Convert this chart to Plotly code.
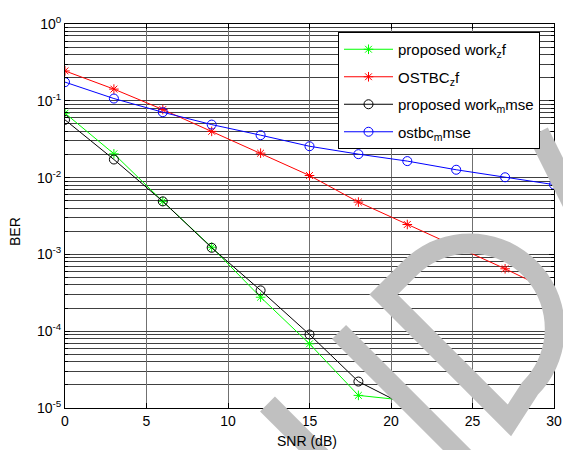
import math
import plotly.graph_objects as go

# ---------------- data ----------------
snr = [0, 3, 6, 9, 12, 15, 18, 21, 24, 27, 30]
snr_short = [0, 3, 6, 9, 12, 15, 18, 21]

proposed_zf = [0.069, 0.0204, 0.0049, 0.00124, 0.000277, 6.85e-5, 1.46e-5, 1.25e-5]
ostbc_zf = [0.245, 0.142, 0.077, 0.040, 0.0208, 0.01065, 0.0048, 0.00245, 0.00125, 0.00065, 0.00032]
proposed_mmse = [0.0565, 0.0172, 0.0049, 0.00122, 0.00034, 9.06e-5, 2.21e-5, 1.05e-5]
ostbc_mmse = [0.175, 0.107, 0.071, 0.049, 0.0357, 0.0256, 0.0202, 0.0164, 0.01265, 0.0101, 0.0081]

names = ["proposed work<sub>z</sub>f", "OSTBC<sub>z</sub>f",
         "proposed work<sub>m</sub>mse", "ostbc<sub>m</sub>mse"]

x_ticks = [0, 5, 10, 15, 20, 25, 30]
y_exps = [-5, -4, -3, -2, -1, 0]

# ---------------- layout geometry ----------------
W, H = 563, 450
ML, MR, MT, MB = 65, 9, 24, 42
PW, PH = W - ML - MR, H - MT - MB
FONT = "Liberation Sans, Arial, sans-serif"


def paper(px, py):
    return (px - ML) / PW, (H - MB - py) / PH


fig = go.Figure()

fig.add_trace(go.Scatter(x=snr_short, y=proposed_zf, name=names[0], mode="lines+markers",
                         line=dict(color="#00ff00", width=1),
                         marker=dict(symbol="asterisk-open", size=8, line=dict(color="#00ff00", width=1)),
                         legendgroup="a"))
fig.add_trace(go.Scatter(x=snr, y=ostbc_zf, name=names[1], mode="lines+markers",
                         line=dict(color="#ff0000", width=1),
                         marker=dict(symbol="asterisk-open", size=8, line=dict(color="#ff0000", width=1)),
                         legendgroup="b"))
fig.add_trace(go.Scatter(x=snr_short, y=proposed_mmse, name=names[2], mode="lines+markers",
                         line=dict(color="#000000", width=1),
                         marker=dict(symbol="circle-open", size=9, line=dict(color="#000000", width=1)),
                         legendgroup="c"))
fig.add_trace(go.Scatter(x=snr, y=ostbc_mmse, name=names[3], mode="lines+markers",
                         line=dict(color="#0000ff", width=1),
                         marker=dict(symbol="circle-open", size=9, line=dict(color="#0000ff", width=1)),
                         legendgroup="d"))

# minor gridline positions for the log axis
minor_vals = [m * 10 ** e for e in range(-5, 0) for m in range(2, 10)]

fig.update_xaxes(range=[0, 30], tickvals=x_ticks, ticktext=[str(v) for v in x_ticks],
                 automargin=False,
                 showgrid=True, gridcolor="#707070", gridwidth=1, zeroline=False,
                 showline=True, linecolor="black", linewidth=1, mirror="allticks",
                 ticks="inside", ticklen=5, tickcolor="black",
                 tickfont=dict(family=FONT, size=14, color="black"))
fig.update_yaxes(type="log", range=[-5, 0],
                 tickvals=[10 ** e for e in y_exps],
                 ticktext=["10<sup>%d</sup>" % e for e in y_exps],
                 automargin=False,
                 showgrid=True, gridcolor="#404040", gridwidth=1, zeroline=False,
                 showline=True, linecolor="black", linewidth=1, mirror="allticks",
                 ticks="inside", ticklen=5, tickcolor="black",
                 tickfont=dict(family=FONT, size=14, color="black"),
                 minor=dict(tickvals=minor_vals, showgrid=True, gridcolor="#404040", gridwidth=1,
                            ticks="inside", ticklen=3, tickcolor="black"))

# axis titles as annotations (precise placement)
ax_x, ax_y = paper(307, 441)
by_x, by_y = paper(15, 232)
annotations = [
    dict(text="SNR (dB)", x=ax_x, y=ax_y, xref="paper", yref="paper", showarrow=False,
         font=dict(family=FONT, size=14, color="black"), xanchor="center", yanchor="middle"),
    dict(text="BER", x=by_x, y=by_y, xref="paper", yref="paper", showarrow=False, textangle=-90,
         font=dict(family=FONT, size=14, color="black"), xanchor="center", yanchor="middle"),
]

# ---------------- occluding watermark (grey strokes over the picture) ----------------
WM = "#c0c0c0"
shapes = []


def band(cx, cy, dx, dy, length, width):
    n = math.hypot(dx, dy)
    x0, y0 = paper(cx, cy)
    x1, y1 = paper(cx + dx / n * length, cy + dy / n * length)
    return dict(type="line", xref="paper", yref="paper", x0=x0, y0=y0, x1=x1, y1=y1,
                line=dict(color=WM, width=width), layer="above")


shapes.append(band(267.5, 404.0, 1, 1, 120, 21))
shapes.append(band(339.0, 332.0, 1, 1, 200, 20))
shapes.append(band(538.0, 132.5, 0.447, 0.894, 120, 22))

# the "D": straight stem plus a rounded bowl, in a frame rotated 45 degrees
P1x, P1y = 380.0, 291.0
r2 = math.sqrt(2.0)


def uv(u, v):
    return P1x + (u + v) / r2, P1y + (u - v) / r2


pts = [uv(5, 0), uv(183, 0)]
uc, a, R = 90.0, 37.0, 85.0
for i in range(0, 37):
    t = math.radians(5 * i)
    pts.append(uv(uc + R * math.cos(t), a + R * math.sin(t)))
path = ""
for i, (px, py) in enumerate(pts):
    qx, qy = paper(px, py)
    path += ("M" if i == 0 else "L") + "%.5f,%.5f " % (qx, qy)
path += "Z"
shapes.append(dict(type="path", xref="paper", yref="paper", path=path,
                   line=dict(color=WM, width=20), layer="above"))

lx, ly = paper(338, 32)
fig.update_layout(
    width=W, height=H,
    margin=dict(l=ML, r=MR, t=MT, b=MB, pad=0, autoexpand=False),
    paper_bgcolor="white", plot_bgcolor="white",
    font=dict(family=FONT, size=14, color="black"),
    showlegend=True,
    legend=dict(x=lx, y=ly, xanchor="left", yanchor="top",
                bgcolor="white", bordercolor="black", borderwidth=1,
                font=dict(family=FONT, size=15, color="black"),
                itemwidth=49, tracegroupgap=5, traceorder="grouped"),
    annotations=annotations,
    shapes=shapes,
)

fig.write_html("out.html", config={"displayModeBar": False},
               post_script="document.body.style.margin='0';document.body.style.overflow='hidden';")
